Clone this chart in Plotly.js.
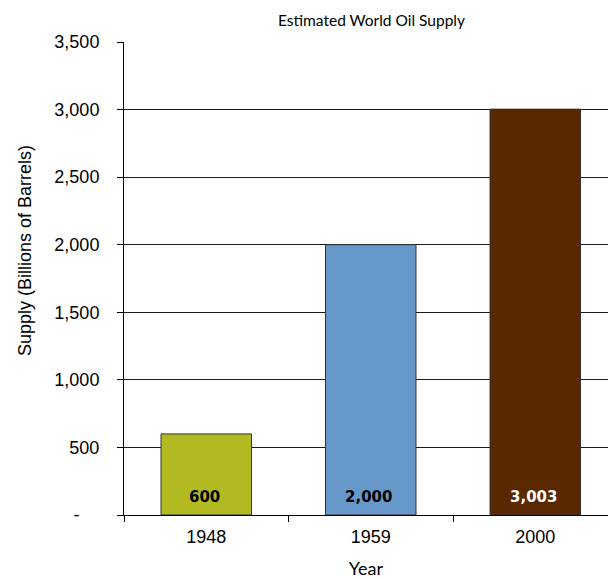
<!DOCTYPE html>
<html><head><meta charset="utf-8">
<script src="https://cdn.plot.ly/plotly-3.0.1.min.js"></script>
<style>html,body{margin:0;padding:0;background:#fff}</style>
</head><body><div id="chart" style="width:608px;height:579px"></div>
<script>
const years = ["1948", "1959", "2000"];
const supply = [600, 2000, 3003];
const barColors = ["#b2ba22", "#6699c9", "#5a2800"];
const labelColors = ["#000000", "#000000", "#ffffff"];
const yTickVals = [0, 500, 1000, 1500, 2000, 2500, 3000, 3500];
const yTickText = ["-\u00a0\u00a0\u00a0\u00a0", "500", "1,000", "1,500", "2,000", "2,500", "3,000", "3,500"];

const fmt = v => v.toLocaleString("en-US");
const ARIAL = "Liberation Sans";

const trace = {
  type: "bar",
  x: years,
  y: supply,
  width: 0.55,
  marker: {color: barColors, line: {color: "#333333", width: 1}},
  hoverinfo: "none"
};

const annotations = years.map((yr, i) => ({
  x: i, y: 0, xref: "x", yref: "y",
  text: "<b>" + fmt(supply[i]) + "</b>",
  showarrow: false, yanchor: "middle", yshift: 18, xshift: -2,
  font: {family: "DejaVu Sans", size: 15, color: labelColors[i], weight: "bold"}
}));
annotations.push({
  text: "Estimated World Oil Supply", xref: "paper", yref: "paper",
  x: (371 - 124) / 484, y: 1, yanchor: "middle", yshift: 22, showarrow: false,
  font: {family: "Lato", size: 15.5, color: "#000"}
});
annotations.push({
  text: "Supply (Billions of Barrels)", xref: "paper", yref: "paper",
  x: 0, xshift: -99, xanchor: "center",
  y: (515 - 251) / 473, yanchor: "middle",
  textangle: -90, showarrow: false,
  font: {family: ARIAL, size: 18, color: "#000"}
});

const layout = {
  width: 608, height: 579,
  margin: {l: 124, r: 0, t: 42, b: 64},
  paper_bgcolor: "#fff", plot_bgcolor: "#fff",
  showlegend: false,
  font: {family: ARIAL, size: 18, color: "#000"},
  xaxis: {
    type: "category",
    range: [-0.5, 2.442],
    showline: true, linecolor: "#000", linewidth: 1,
    ticks: "outside", tickson: "boundaries", ticklen: 6, tickcolor: "#000",
    ticklabelstandoff: 5,
    showgrid: false, zeroline: false,
    tickfont: {family: ARIAL, size: 18},
    title: {text: "Year", font: {family: "Lato", size: 18}, standoff: 21}
  },
  yaxis: {
    range: [0, 3500],
    tickvals: yTickVals, ticktext: yTickText,
    showline: true, linecolor: "#000", linewidth: 1,
    ticks: "outside", ticklen: 6, tickcolor: "#000",
    ticklabelstandoff: 14,
    showgrid: true, gridcolor: "#1a1a1a", gridwidth: 1,
    zeroline: false,
    tickfont: {family: ARIAL, size: 18}
  },
  annotations: annotations
};

Plotly.newPlot("chart", [trace], layout, {displayModeBar: false, staticPlot: true});
</script></body></html>
